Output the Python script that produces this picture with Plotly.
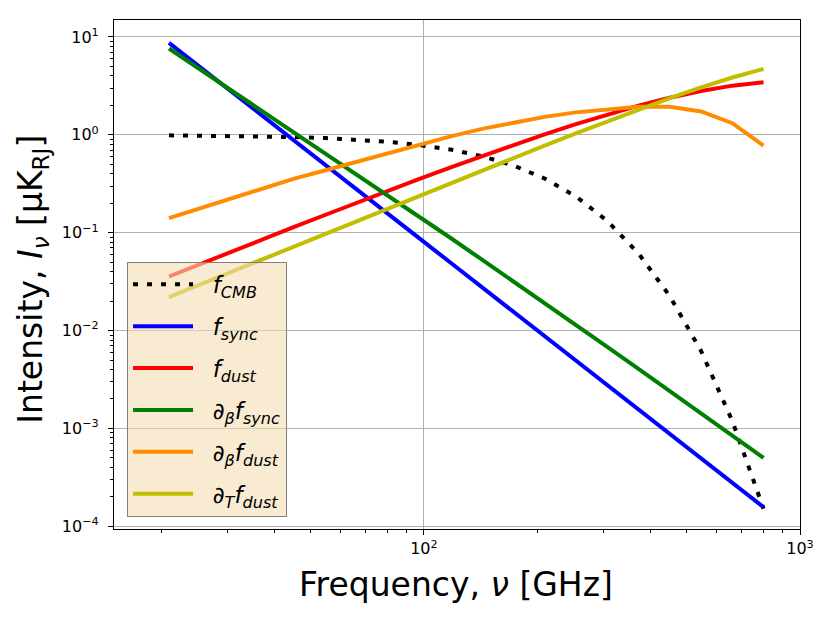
import plotly.graph_objects as go

# frequencies [GHz] and component spectra
freq = [21.0, 25.4, 30.8, 37.3, 45.2, 54.8, 66.3, 80.3, 97.3, 117.8,
        142.7, 172.9, 209.4, 253.6, 307.2, 372.0, 450.6, 545.8, 661.0, 800.0]

f_cmb = [0.989, 0.983, 0.976, 0.965, 0.949, 0.926, 0.894, 0.849, 0.787, 0.707,
         0.606, 0.487, 0.358, 0.235, 0.132, 0.0614, 0.0225, 0.00618, 0.00119, 0.000151]
f_sync = [8.70, 4.90, 2.76, 1.55, 0.873, 0.491, 0.276, 0.156, 0.0875, 0.0493,
          0.0277, 0.0156, 0.00878, 0.00494, 0.00278, 0.00157, 0.000881, 0.000496, 0.000279, 0.000157]
f_dust = [0.0357, 0.0479, 0.0641, 0.0858, 0.1145, 0.1526, 0.2028, 0.2687, 0.3546, 0.4658,
          0.608, 0.788, 1.013, 1.288, 1.614, 1.988, 2.397, 2.810, 3.183, 3.450]
dbeta_sync = [7.63, 4.66, 2.86, 1.75, 1.073, 0.653, 0.397, 0.241, 0.1457, 0.0883,
              0.0530, 0.0319, 0.0191, 0.01143, 0.00683, 0.00407, 0.00242, 0.00143, 0.000848, 0.000501]
dbeta_dust = [0.141, 0.178, 0.226, 0.284, 0.357, 0.435, 0.530, 0.644, 0.798, 0.965,
              1.151, 1.342, 1.527, 1.697, 1.830, 1.932, 1.936, 1.734, 1.314, 0.777]
dT_dust = [0.0220, 0.0296, 0.0399, 0.0539, 0.0726, 0.0978, 0.1318, 0.1776, 0.2391, 0.3217,
           0.4324, 0.5803, 0.7772, 1.037, 1.378, 1.818, 2.375, 3.057, 3.855, 4.721]

x_tickvals = [100, 1000]
x_ticktext = ["10<sup>2</sup>", "10<sup>3</sup>"]
y_tickvals = [10, 1, 0.1, 0.01, 0.001, 0.0001]
y_ticktext = ["10<sup>1</sup>", "10<sup>0</sup>", "10<sup>−1</sup>", "10<sup>−2</sup>",
              "10<sup>−3</sup>", "10<sup>−4</sup>"]

# minor ticks at 2..9 times each decade
x_minor = [d * m for d in [10, 100] for m in range(2, 10)]
y_minor = [d * m for d in [0.0001, 0.001, 0.01, 0.1, 1, 10] for m in range(2, 10)]

series = [
    ("<i>f</i><sub><i>CMB</i></sub>", f_cmb, "black", "5px,9px"),
    ("<i>f</i><sub><i>sync</i></sub>", f_sync, "#0000ff", "solid"),
    ("<i>f</i><sub><i>dust</i></sub>", f_dust, "#ff0000", "solid"),
    ("∂<sub><i>β</i></sub><i>f</i><sub><i>sync</i></sub>", dbeta_sync, "#008000", "solid"),
    ("∂<sub><i>β</i></sub><i>f</i><sub><i>dust</i></sub>", dbeta_dust, "#ff8c00", "solid"),
    ("∂<sub><i>T</i></sub><i>f</i><sub><i>dust</i></sub>", dT_dust, "#bfbf00", "solid"),
]

fig = go.Figure()
for i, (name, vals, col, dash) in enumerate(series):
    fig.add_trace(go.Scatter(x=freq, y=vals, mode="lines", name="\u00a0\u00a0" + name,
                             legendgroup=str(i),
                             line=dict(color=col, width=4, dash=dash)))

axis_common = dict(type="log", showline=True, linecolor="black", linewidth=1.2,
                   mirror=True, ticks="outside", ticklen=5, tickcolor="black",
                   showgrid=True, gridcolor="#b0b0b0", gridwidth=1,
                   zeroline=False, tickmode="array",
                   tickfont=dict(size=16, color="black"))

fig.update_xaxes(range=[1.176, 3], tickvals=x_tickvals, ticktext=x_ticktext,
                 minor=dict(tickmode="array", tickvals=x_minor, ticks="outside",
                            ticklen=3, tickcolor="black", showgrid=False),
                 **axis_common)
fig.update_yaxes(range=[-4.0276, 1.1736], tickvals=y_tickvals, ticktext=y_ticktext,
                 minor=dict(tickmode="array", tickvals=y_minor, ticks="outside",
                            ticklen=3, tickcolor="black", showgrid=False),
                 ticklabelstandoff=6, **axis_common)

# axis labels placed as annotations (page has an 8px body offset)
fig.add_annotation(text="Frequency, <i>ν</i> [GHz]", xref="paper", yref="paper",
                   x=0.498, y=-0.109, xanchor="center", yanchor="middle",
                   showarrow=False, font=dict(size=33))
fig.add_annotation(text="Intensity, <i>I</i><sub><i>ν</i></sub> [μK<sub>RJ</sub>]",
                   xref="paper", yref="paper", x=-0.1525, y=0.4915,
                   xanchor="left", yanchor="middle", textangle=-90,
                   showarrow=False, font=dict(size=33))

fig.update_layout(
    width=822, height=609,
    margin=dict(l=106, r=30, t=12, b=88),
    plot_bgcolor="white", paper_bgcolor="white",
    font=dict(family="DejaVu Sans", color="black"),
    legend=dict(x=0.019, y=0.024, xanchor="left", yanchor="bottom",
                bgcolor="rgba(245,222,179,0.6)", bordercolor="#808080",
                borderwidth=1, font=dict(size=23), tracegroupgap=9,
                itemwidth=60),
    showlegend=True,
)

fig.write_html("out.html")
